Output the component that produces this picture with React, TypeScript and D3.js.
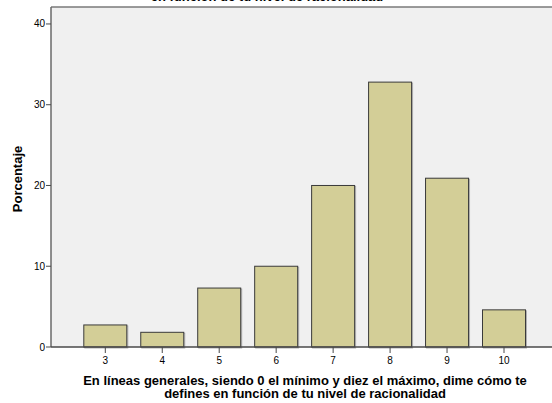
import React from "react";
import * as d3 from "d3";

const categories = [3, 4, 5, 6, 7, 8, 9, 10];
const percentages = [2.73, 1.82, 7.3, 10.0, 20.0, 32.8, 20.9, 4.6];
const yTicks = [0, 10, 20, 30, 40];
const titleText = "en función de tu nivel de racionalidad";
const xTitle1 = "En líneas generales, siendo 0 el mínimo y diez el máximo, dime cómo te";
const xTitle2 = "defines en función de tu nivel de racionalidad";
const yTitle = "Porcentaje";

export default function App() {
  const W = 552, H = 403;
  const left = 51, top = 7, bottom = 347, right = 560;
  const y = d3.scaleLinear().domain([0, 42.1]).range([bottom, top]);
  const x = d3.scaleLinear().domain([3, 10]).range([105.3, 504]);
  const bw = 43;
  const font = "Arial, 'Liberation Sans', sans-serif";
  return (
    <svg width={W} height={H} style={{ position: "absolute", left: 0, top: 0 }}>
      <rect x={left} y={top} width={right - left} height={bottom - top} fill="#f0f0f0" />
      <text x={267} y={1} textAnchor="middle" fontFamily={font} fontWeight="bold" fontSize={13} fill="#000">{titleText}</text>
      {categories.map((c, i) => (
        <g key={c}>
          <rect x={x(c) - bw / 2 + 1} y={y(percentages[i]) + 1} width={bw} height={y(0) - y(percentages[i])} fill="none" stroke="#b0b0b0" strokeWidth={1} />
          <rect x={x(c) - bw / 2} y={y(percentages[i])} width={bw} height={y(0) - y(percentages[i])} fill="#d3ce97" stroke="#3a3a3a" strokeWidth={1} />
        </g>
      ))}
      <line x1={left} y1={top} x2={right} y2={top} stroke="#7a7a7a" strokeWidth={1.5} />
      <line x1={left} y1={top} x2={left} y2={bottom} stroke="#6a6a6a" strokeWidth={1.5} />
      <line x1={left} y1={bottom} x2={right} y2={bottom} stroke="#4a4a4a" strokeWidth={1.5} />
      {yTicks.map(t => (
        <g key={t}>
          <line x1={left - 5} x2={left} y1={y(t)} y2={y(t)} stroke="#4a4a4a" strokeWidth={1} />
          <text x={left - 6} y={y(t) + 3.5} textAnchor="end" fontFamily={font} fontSize={10} fill="#000">{t}</text>
        </g>
      ))}
      {categories.map(c => (
        <g key={"t" + c}>
          <line x1={x(c)} x2={x(c)} y1={bottom} y2={bottom + 6} stroke="#4a4a4a" strokeWidth={1} />
          <text x={x(c)} y={bottom + 17} textAnchor="middle" fontFamily={font} fontSize={10} fill="#000">{c}</text>
        </g>
      ))}
      <text x={305} y={385} textAnchor="middle" fontFamily={font} fontWeight="bold" fontSize={13} fill="#000">{xTitle1}</text>
      <text x={305} y={398} textAnchor="middle" fontFamily={font} fontWeight="bold" fontSize={13} fill="#000">{xTitle2}</text>
      <text transform={`translate(22,${(top + bottom) / 2 + 2}) rotate(-90)`} textAnchor="middle" fontFamily={font} fontWeight="bold" fontSize={13} fill="#000">{yTitle}</text>
    </svg>
  );
}
